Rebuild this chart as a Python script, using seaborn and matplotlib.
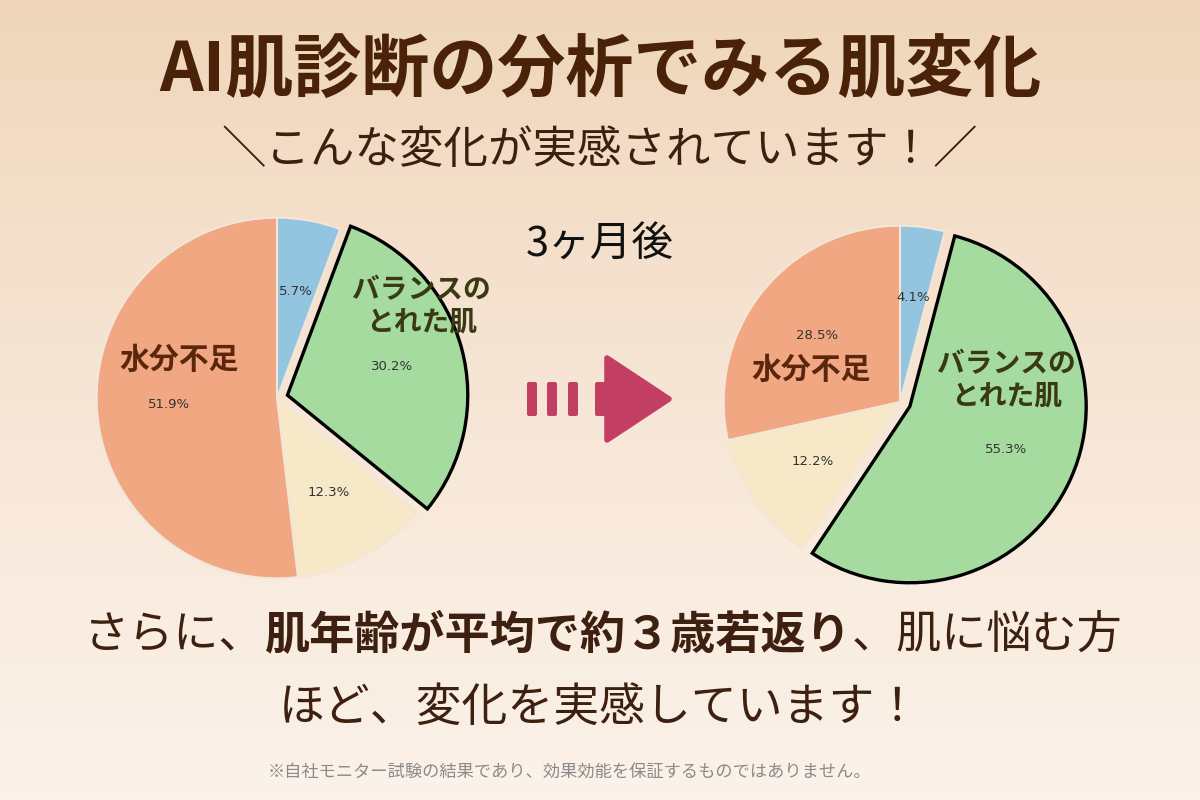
import numpy as np
import matplotlib.pyplot as plt
import seaborn as sns
from matplotlib.patches import FancyBboxPatch, Polygon
from matplotlib.colors import LinearSegmentedColormap

# --- DATA ---
segments = ['区分A', 'バランスのとれた肌', '区分B', '水分不足']
before_pct = [5.7, 30.2, 12.3, 51.9]
after_pct = [4.1, 55.3, 12.2, 28.5]
seg_colors = ['#93C5E0', '#A6DBA0', '#F7E8C8', '#F0A782']
highlight = 'バランスのとれた肌'

title = 'AI肌診断の分析でみる肌変化'
subtitle = '＼こんな変化が実感されています！／'
after_label = '3ヶ月後'
line1_parts = [('さらに、', 'normal'), ('肌年齢が平均で約３歳若返り', 'bold'), ('、肌に悩む方', 'normal')]
line2 = 'ほど、変化を実感しています！'
footnote = '※自社モニター試験の結果であり、効果効能を保証するものではありません。'

sns.set_theme(style='white')
plt.rcParams['font.family'] = ['Noto Sans CJK JP', 'DejaVu Sans']

W, H = 1200, 800
fig = plt.figure(figsize=(12, 8), dpi=100)

# background gradient
bg = fig.add_axes([0, 0, 1, 1], zorder=-10)
grad = np.linspace(0, 1, 256).reshape(-1, 1)
cmap = LinearSegmentedColormap.from_list('bg', ['#EFD6BA', '#F7E6D6', '#FBF2EA'])
bg.imshow(grad, aspect='auto', cmap=cmap, extent=[0, 1, 0, 1], origin='upper')
bg.axis('off')


def draw_pie(cx, cy, values, radius, labels_pos):
    size = 440
    ax = fig.add_axes([(cx - size / 2) / W, (H - cy - size / 2) / H, size / W, size / H])
    explode = [0.06 if s == highlight else 0 for s in segments]
    it = iter(values)
    wedges, _, autotexts = ax.pie(
        values, colors=seg_colors, explode=explode, startangle=90, counterclock=False,
        radius=radius, autopct=lambda p: f'{next(it):.1f}%', pctdistance=0.6,
        wedgeprops=dict(edgecolor='#F3E6D8', linewidth=1.5),
        textprops=dict(fontsize=9.5, color='#333333', family='DejaVu Sans'))
    for w, s in zip(wedges, segments):
        if s == highlight:
            w.set_edgecolor('black')
            w.set_linewidth(2.4)
            w.set_zorder(3)
    for t in autotexts:
        t.set_zorder(5)
    ax.set_xlim(-1.22, 1.22)
    ax.set_ylim(-1.22, 1.22)
    ax.set_aspect('equal')
    ax.axis('off')
    (x1, y1), (x2, y2) = labels_pos
    ax.text(x1, y1, '水分不足', ha='center', va='center', fontsize=21.5, fontweight='bold',
            color='#5A260C', zorder=6)
    ax.text(x2, y2, 'バランスの\nとれた肌', ha='center', va='center', fontsize=20,
            fontweight='bold', color='#3A3A12', linespacing=1.2, zorder=6)
    return ax


draw_pie(277, 398, before_pct, 1.0, [(-0.54, 0.21), (0.80, 0.51)])
draw_pie(900, 402, after_pct, 176 / 180, [(-0.49, 0.18), (0.59, 0.12)])

# arrow
ov = fig.add_axes([0, 0, 1, 1], zorder=-5)
ov.set_xlim(0, W)
ov.set_ylim(H, 0)
ov.axis('off')
arrow_c = '#C23E62'
for x0 in [527, 547, 568]:
    ov.add_patch(FancyBboxPatch((x0, 382), 10, 34, boxstyle='round,pad=0,rounding_size=2',
                                fc=arrow_c, ec='none'))
ov.add_patch(FancyBboxPatch((595, 382), 14, 34, boxstyle='round,pad=0,rounding_size=2',
                            fc=arrow_c, ec='none'))
ov.add_patch(Polygon([(607, 358), (607, 440), (669, 399)], closed=True, fc=arrow_c,
                     ec=arrow_c, lw=4, joinstyle='round'))

# texts
fig.text(0.5, 1 - 72 / H, title, ha='center', va='center', fontsize=49, fontweight='bold',
         color='#4A2208')
fig.text(0.5, 1 - 150 / H, subtitle, ha='center', va='center', fontsize=32, color='#3A2010')
fig.text(0.5, 1 - 245 / H, after_label, ha='center', va='center', fontsize=30, color='#111111')

fig.canvas.draw()
r = fig.canvas.get_renderer()
parts = [fig.text(0, 1 - 635 / H, s, ha='left', va='center', fontsize=32.5, fontweight=w,
                  color='#3E2010') for s, w in line1_parts]
widths = [t.get_window_extent(r).width for t in parts]
x = (W - sum(widths)) / 2 + 3
for t, w in zip(parts, widths):
    t.set_x(x / W)
    x += w
fig.text(0.5, 1 - 708 / H, line2, ha='center', va='center', fontsize=33, color='#3E2010')
fig.text(569 / W, 1 - 772 / H, footnote, ha='center', va='center', fontsize=12.4,
         color='#8A8A8A')

fig.savefig('out.png', dpi=100)
